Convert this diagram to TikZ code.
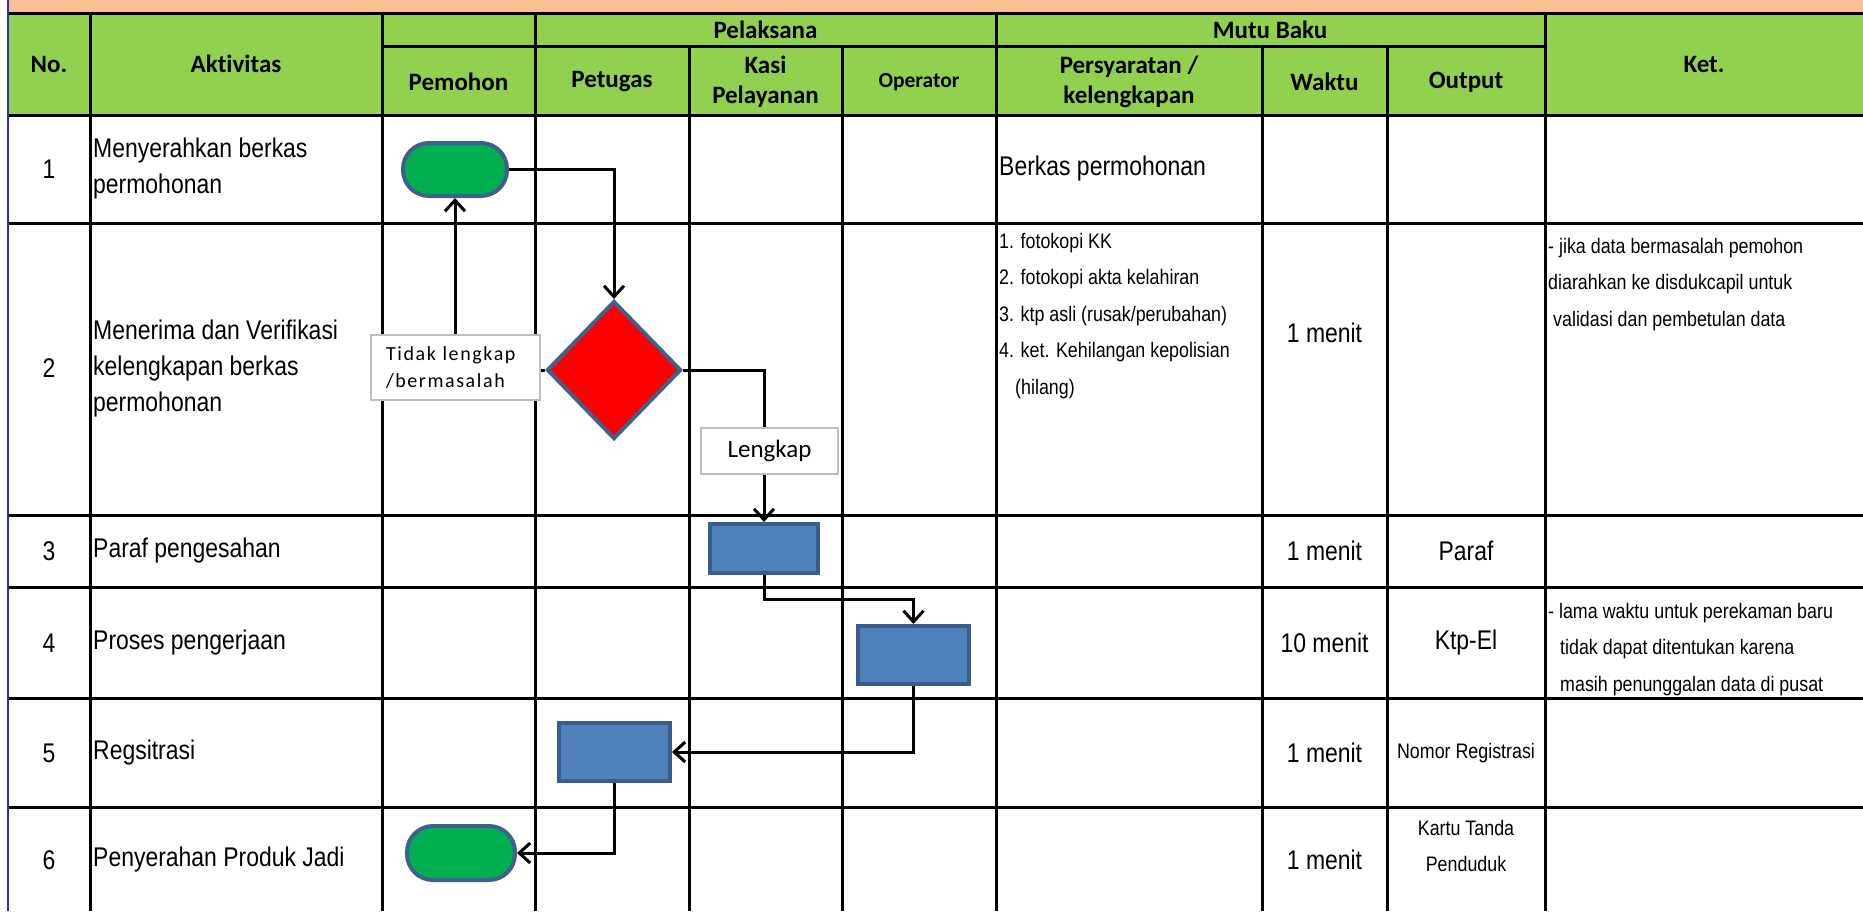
\documentclass[tikz,border=0pt]{standalone}
\usepackage{fontspec}
\usetikzlibrary{arrows.meta,shapes.geometric}
\newfontfamily\narfont[FakeStretch=0.85]{Liberation Sans}
\newfontfamily\calfont[Ligatures=NoCommon]{Carlito}
\newfontfamily\callbl[LetterSpace=8,Ligatures=NoCommon]{Carlito}
\newcommand\myBig{\narfont\fontsize{27}{36}\selectfont}
\newcommand\mySmall{\narfont\fontsize{21}{36.5}\selectfont}
\newcommand\myHead{\calfont\bfseries\fontsize{25}{30}\selectfont}
\definecolor{orng}{HTML}{FAC090}
\definecolor{hgreen}{HTML}{92D050}
\definecolor{ovgreen}{HTML}{00B050}
\definecolor{shblue}{HTML}{3F5F8C}
\definecolor{prfill}{HTML}{4F81BD}
\definecolor{prline}{HTML}{385D8A}
\definecolor{lblgray}{HTML}{BFBFBF}
\definecolor{edgeblue}{HTML}{2B2BC8}
\tikzset{
  grid/.style={draw=black, line width=3pt},
  hd/.style={inner sep=0pt, align=center, font=\myHead},
  bt/.style={inner sep=0pt, align=left, font=\myBig},
  st/.style={inner sep=0pt, align=left, font=\mySmall},
  term/.style={rectangle, rounded corners=26pt, minimum width=104pt, minimum height=53pt, fill=ovgreen, draw=shblue, line width=4pt},
  decis/.style={diamond, inner sep=0pt, minimum width=134pt, minimum height=138pt, fill=red, draw=shblue, line width=4pt},
  proc/.style={rectangle, fill=prfill, draw=prline, line width=4pt},
  lblbox/.style={rectangle, fill=white, draw=lblgray, line width=1.5pt},
  arr/.style={draw=black, line width=3pt, -{Straight Barb[length=11pt,width=20pt]}}
}
\begin{document}
\begin{tikzpicture}[x=1pt,y=-1pt]
\useasboundingbox (0,0) rectangle (1863,911);
\fill[white] (0,0) rectangle (1863,911);
\fill[orng] (8,0) rectangle (1863,13);
\fill[hgreen] (8,13) rectangle (1863,115);
% grid
\draw[grid] (8,13) -- (1863,13);
\draw[grid] (382,46) -- (1545,46);
\foreach \yy in {115,223,515,587,698,807} \draw[grid] (8,\yy) -- (1863,\yy);
\foreach \xx in {90,382,535,996,1545} \draw[grid] (\xx,13) -- (\xx,911);
\foreach \xx in {689,842,1262,1387} \draw[grid] (\xx,46) -- (\xx,911);
\draw[draw=edgeblue, line width=2.5pt] (8,0) -- (8,911);
% header
\node[hd] (hNo) at (49,64) {No.};
\node[hd] (hAkt) at (236,64) {Aktivitas};
\node[hd] (hPem) at (458.5,82) {Pemohon};
\node[hd] (hPel) at (765.5,30) {Pelaksana};
\node[hd] (hPet) at (612,82) {Petugas};
\node[hd] (hKasi) at (765.5,82) {Kasi\\Pelayanan};
\node[hd, font=\calfont\bfseries\fontsize{21.5}{25}\selectfont] (hOp) at (919,82) {Operator};
\node[hd] (hMutu) at (1270,30) {Mutu Baku};
\node[hd] (hPers) at (1129,82) {Persyaratan /\\kelengkapan};
\node[hd] (hWak) at (1324.5,82) {Waktu};
\node[hd] (hOut) at (1466,82) {Output};
\node[hd] (hKet) at (1704,64) {Ket.};
% numbers
\node[bt] (n1) at (49,169) {1};
\node[bt] (n2) at (49,368) {2};
\node[bt] (n3) at (49,551) {3};
\node[bt] (n4) at (49,643) {4};
\node[bt] (n5) at (49,753) {5};
\node[bt] (n6) at (49,860) {6};
% activities
\node[bt, anchor=west] (a1) at (93,169) {Menyerahkan berkas\\permohonan};
\node[bt, anchor=west] (a2) at (93,369) {Menerima dan Verifikasi\\kelengkapan berkas\\permohonan};
\node[bt, anchor=west] (a3) at (93,551) {Paraf pengesahan};
\node[bt, anchor=west] (a4) at (93,643) {Proses pengerjaan};
\node[bt, anchor=west] (a5) at (93,753) {Regsitrasi};
\node[bt, anchor=west] (a6) at (93,860) {Penyerahan Produk Jadi};
% persyaratan
\node[bt, anchor=west] (p1) at (999,169) {Berkas permohonan};
\node[st, anchor=north west] (p2) at (999,233) {1. fotokopi KK\\2. fotokopi akta kelahiran\\3. ktp asli (rusak/perubahan)\\4. ket. Kehilangan kepolisian\\\hspace*{16pt}(hilang)};
% waktu
\node[bt] (w2) at (1324.5,333) {1 menit};
\node[bt] (w3) at (1324.5,551) {1 menit};
\node[bt] (w4) at (1324.5,643) {10 menit};
\node[bt] (w5) at (1324.5,753) {1 menit};
\node[bt] (w6) at (1324.5,860) {1 menit};
% output
\node[bt] (o3) at (1466,551) {Paraf};
\node[bt] (o4) at (1466,643) {Ktp-El};
\node[st] (o5) at (1466,753) {Nomor Registrasi};
\node[st, align=center] (o6) at (1466,846) {Kartu Tanda\\Penduduk};
% ket
\node[st, anchor=north west] (k2) at (1548,238) {- jika data bermasalah pemohon\\diarahkan ke disdukcapil untuk\\\hspace*{5pt}validasi dan pembetulan data};
\node[st, anchor=north west] (k4) at (1548,603) {- lama waktu untuk perekaman baru\\\hspace*{12pt}tidak dapat ditentukan karena\\\hspace*{12pt}masih penunggalan data di pusat};
% flow shapes
\node[term] (start) at (455,169.5) {};
\node[decis] (dia) at (614,370) {};
\node[proc, minimum width=108pt, minimum height=49pt] (kasi) at (764,548.5) {};
\node[proc, minimum width=111pt, minimum height=58pt] (op) at (913.5,655) {};
\node[proc, minimum width=111pt, minimum height=58pt] (pet) at (614.5,752) {};
\node[term, minimum width=108pt, minimum height=54pt] (finish) at (461,853) {};
% connectors
\draw[arr] (start.east) -| (dia.north);
\draw[arr] (dia.west) -| (start.south);
\draw[arr] (dia.east) -| (kasi.north);
\draw[arr] (kasi.south) -- ++(0,24) -| (op.north);
\draw[arr] (op.south) |- (pet.east);
\draw[arr] (pet.south) |- (finish.east);
% labels
\node[lblbox, minimum width=169pt, minimum height=65pt, inner xsep=15pt, align=left, text width=139pt, font=\callbl\fontsize{20}{27}\selectfont] (ltidak) at (455.5,367.5) {Tidak lengkap\\/bermasalah};
\node[lblbox, minimum width=137pt, minimum height=46pt, font=\calfont\fontsize{25}{28}\selectfont] (llengkap) at (769.5,451) {Lengkap};
\end{tikzpicture}
\end{document}
